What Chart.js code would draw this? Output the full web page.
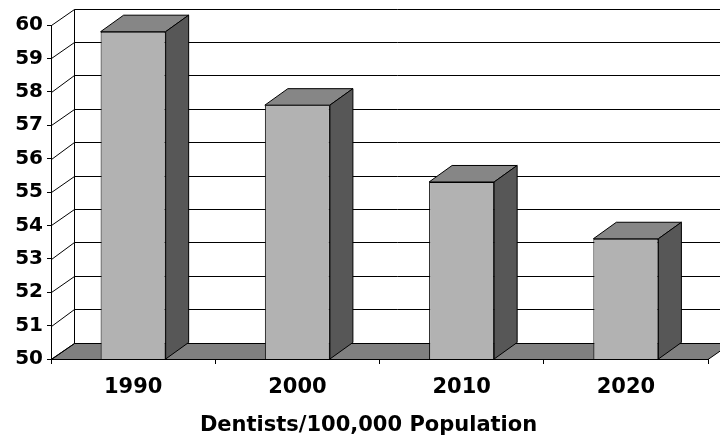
<!DOCTYPE html>
<html>
<head>
<meta charset="utf-8">
<script src="https://cdn.jsdelivr.net/npm/chart.js@4/dist/chart.umd.min.js"></script>
<style>
  html, body { margin: 0; padding: 0; background: #fff; }
  canvas { display: block; }
</style>
</head>
<body>
<canvas id="chart" width="720" height="441"></canvas>
<script>
// Dentists per 100,000 population, by decade
const years = ['1990', '2000', '2010', '2020'];
const dentistsPer100k = [59.8, 57.6, 55.3, 53.6];
const axisMin = 50;
const axisMax = 60;
const axisStep = 1;
const axisTitle = 'Dentists/100,000 Population';

// Depth of the 3-D box (walls, floor and bars)
const DEPTH_X = 23;
const DEPTH_Y = -16.5;
const FACE_FRONT = '#b2b2b2';
const FACE_TOP = '#868686';
const FACE_SIDE = '#575757';
const FLOOR = '#808080';
const FONT = "'DejaVu Sans', Verdana, sans-serif";

const crisp = v => Math.round(v) + 0.5;

const box3d = {
  id: 'box3d',
  // back wall, left wall and floor sit behind everything
  beforeDraw(chart) {
    const { ctx, chartArea: a, scales: { y } } = chart;
    ctx.save();
    ctx.fillStyle = '#fff';
    ctx.fillRect(0, 0, chart.width, chart.height);

    const backL = crisp(a.left + DEPTH_X);
    const backR = a.right + DEPTH_X;
    const backY = v => crisp(y.getPixelForValue(v) + DEPTH_Y);

    // floor
    ctx.beginPath();
    ctx.moveTo(a.left, crisp(a.bottom));
    ctx.lineTo(a.right, crisp(a.bottom));
    ctx.lineTo(backR, backY(axisMin));
    ctx.lineTo(backL, backY(axisMin));
    ctx.closePath();
    ctx.fillStyle = FLOOR;
    ctx.fill();
    ctx.strokeStyle = '#000';
    ctx.lineWidth = 1;
    ctx.stroke();

    // gridlines on the side wall and back wall
    ctx.beginPath();
    for (let v = axisMin; v <= axisMax + 1e-9; v += axisStep) {
      const yf = crisp(y.getPixelForValue(v));
      ctx.moveTo(crisp(a.left), yf);
      ctx.lineTo(backL, backY(v));
      ctx.moveTo(backL, backY(v));
      ctx.lineTo(backR, backY(v));
    }
    ctx.moveTo(backL, backY(axisMax));
    ctx.lineTo(backL, backY(axisMin));
    ctx.stroke();
    ctx.restore();
  },
  // top and side faces of each bar
  afterDatasetsDraw(chart) {
    const { ctx, scales: { y: yScale } } = chart;
    const meta = chart.getDatasetMeta(0);
    const floorY = yScale.getPixelForValue(axisMin);
    ctx.save();
    ctx.strokeStyle = '#000';
    ctx.lineWidth = 1;
    meta.data.forEach(bar => {
      const { x, y, width } = bar.getProps(['x', 'y', 'width'], true);
      const l = x - width / 2;
      const r = x + width / 2;

      ctx.beginPath();
      ctx.moveTo(l, y);
      ctx.lineTo(r, y);
      ctx.lineTo(r + DEPTH_X, y + DEPTH_Y);
      ctx.lineTo(l + DEPTH_X, y + DEPTH_Y);
      ctx.closePath();
      ctx.fillStyle = FACE_TOP;
      ctx.fill();
      ctx.stroke();

      ctx.beginPath();
      ctx.moveTo(r, y);
      ctx.lineTo(r + DEPTH_X, y + DEPTH_Y);
      ctx.lineTo(r + DEPTH_X, floorY + DEPTH_Y);
      ctx.lineTo(r, floorY);
      ctx.closePath();
      ctx.fillStyle = FACE_SIDE;
      ctx.fill();
      ctx.stroke();
    });
    ctx.restore();
  }
};

new Chart(document.getElementById('chart'), {
  type: 'bar',
  data: {
    labels: years,
    datasets: [{
      data: dentistsPer100k,
      backgroundColor: FACE_FRONT,
      borderColor: '#000',
      borderWidth: 1,
      categoryPercentage: 1,
      barPercentage: 0.396
    }]
  },
  options: {
    responsive: false,
    animation: false,
    devicePixelRatio: 1,
    layout: { padding: { top: 25, right: 12, left: 0, bottom: 0 } },
    plugins: {
      legend: { display: false },
      tooltip: { enabled: false }
    },
    scales: {
      x: {
        offset: true,
        grid: { drawOnChartArea: false, drawTicks: true, tickLength: 5, color: '#000', offset: true },
        border: { display: true, color: '#000', width: 1 },
        ticks: { color: '#000', padding: 11, font: { family: FONT, weight: 'bold', size: 21 } },
        title: {
          display: true,
          text: axisTitle + '   ',
          color: '#000',
          font: { family: FONT, weight: 'bold', size: 21 },
          padding: { top: 0, bottom: 3 }
        },
        afterFit: s => { s.height = 82; }
      },
      y: {
        min: axisMin,
        max: axisMax,
        grid: { drawOnChartArea: false, drawTicks: true, tickLength: 4, color: '#000' },
        border: { display: true, color: '#000', width: 1 },
        ticks: { stepSize: axisStep, color: '#000', padding: 4, font: { family: FONT, weight: 'bold', size: 20 } },
        afterFit: s => { s.width = 51; }
      }
    }
  },
  plugins: [box3d]
});
</script>
</body>
</html>
